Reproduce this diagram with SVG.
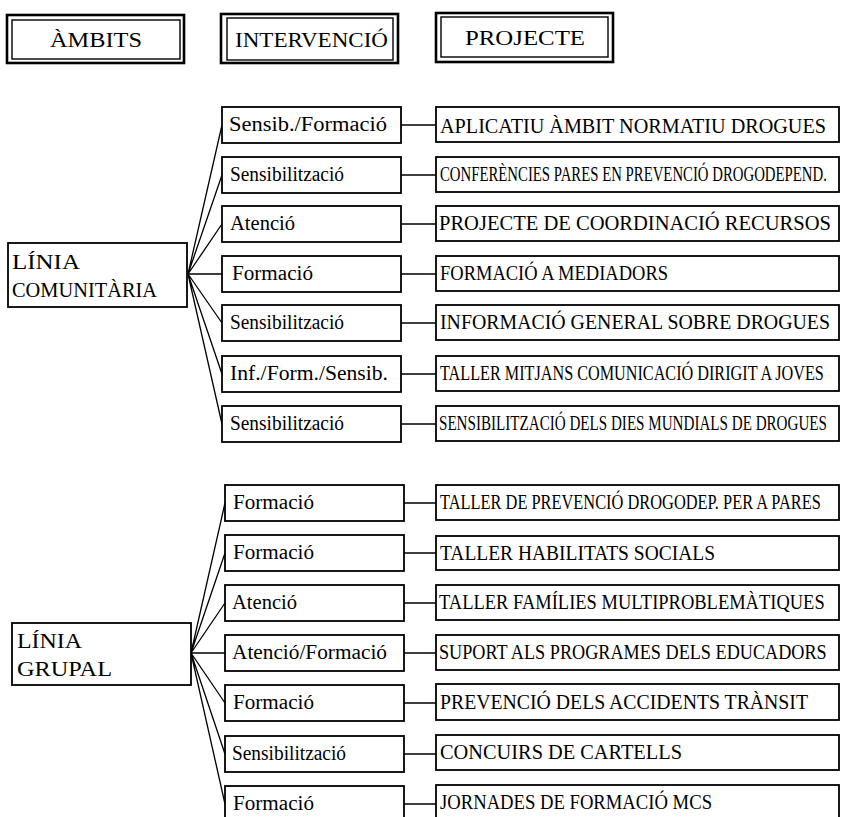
<svg xmlns="http://www.w3.org/2000/svg" width="841" height="817" viewBox="0 0 841 817">
<style>
text{font-family:"Liberation Serif","Times New Roman",serif;fill:#000}
.hdr{font-size:22px}
.mid{font-size:20px}
.prj{font-size:20px}
.amb{font-size:21px}
.box{fill:#fff;stroke:#000;stroke-width:1.8}
.out{fill:#fff;stroke:#000;stroke-width:2.6}
.inn{fill:none;stroke:#000;stroke-width:1.4}
.con{stroke:#000;stroke-width:1.3;fill:none}
</style>
<rect width="841" height="817" fill="#fff"/>
<g id="connectors">
<path class="con" d="M188 274L222 125M188 274L222 175M188 274L222 224M188 274L222 274M188 274L222 323M188 274L222 374M188 274L222 424"/>
<path class="con" d="M401 125H436M401 175H436M401 224H436M401 274H436M401 323H436M401 374H436M401 424H436"/>
<path class="con" d="M191 653L225 503M191 653L225 553M191 653L225 603M191 653L225 653M191 653L225 703M191 653L225 754M191 653L225 804"/>
<path class="con" d="M404 503H436M404 553H436M404 603H436M404 653H436M404 703H436M404 754H436M404 804H436"/>
</g>
<g id="h-ambits"><rect class="out" x="7" y="15" width="177" height="48"/><rect class="inn" x="12" y="20" width="168" height="39"/><text class="hdr" x="50" y="47" textLength="92" lengthAdjust="spacingAndGlyphs">ÀMBITS</text></g>
<g id="h-intervencio"><rect class="out" x="221" y="14" width="177" height="49"/><rect class="inn" x="227" y="18" width="166" height="42"/><text class="hdr" x="235" y="47" textLength="153" lengthAdjust="spacingAndGlyphs">INTERVENCIÓ</text></g>
<g id="h-projecte"><rect class="out" x="436" y="13" width="177" height="49"/><rect class="inn" x="441" y="17" width="167" height="40"/><text class="hdr" x="465" y="45" textLength="120" lengthAdjust="spacingAndGlyphs">PROJECTE</text></g>

<g id="linia-comunitaria"><rect class="box" x="8" y="243" width="179" height="64"/><text class="amb" x="12" y="269" textLength="68" lengthAdjust="spacingAndGlyphs">LÍNIA</text><text class="amb" x="12" y="297" textLength="145" lengthAdjust="spacingAndGlyphs">COMUNITÀRIA</text></g>
<g id="linia-grupal"><rect class="box" x="12" y="623" width="179" height="62"/><text class="amb" x="17" y="648" textLength="65" lengthAdjust="spacingAndGlyphs">LÍNIA</text><text class="amb" x="17" y="676" textLength="95" lengthAdjust="spacingAndGlyphs">GRUPAL</text></g>

<g id="c1"><rect class="box" x="222" y="107" width="179" height="36"/><text class="mid" x="229" y="131" textLength="158" lengthAdjust="spacingAndGlyphs">Sensib./Formació</text></g>
<g id="c2"><rect class="box" x="222" y="157" width="179" height="36"/><text class="mid" x="230" y="181" textLength="114" lengthAdjust="spacingAndGlyphs">Sensibilització</text></g>
<g id="c3"><rect class="box" x="222" y="206" width="179" height="36"/><text class="mid" x="230" y="230" textLength="65" lengthAdjust="spacingAndGlyphs">Atenció</text></g>
<g id="c4"><rect class="box" x="222" y="256" width="179" height="36"/><text class="mid" x="232" y="280" textLength="81" lengthAdjust="spacingAndGlyphs">Formació</text></g>
<g id="c5"><rect class="box" x="222" y="305" width="179" height="36"/><text class="mid" x="230" y="329" textLength="114" lengthAdjust="spacingAndGlyphs">Sensibilització</text></g>
<g id="c6"><rect class="box" x="222" y="356" width="179" height="36"/><text class="mid" x="230" y="380" textLength="158" lengthAdjust="spacingAndGlyphs">Inf./Form./Sensib.</text></g>
<g id="c7"><rect class="box" x="222" y="406" width="179" height="36"/><text class="mid" x="230" y="430" textLength="114" lengthAdjust="spacingAndGlyphs">Sensibilització</text></g>

<g id="p1"><rect class="box" x="436" y="107" width="403" height="35"/><text class="prj" x="440" y="133" textLength="386" lengthAdjust="spacingAndGlyphs">APLICATIU ÀMBIT NORMATIU DROGUES</text></g>
<g id="p2"><rect class="box" x="436" y="157" width="403" height="35"/><text class="prj" transform="translate(440 181) scale(0.74 1)">CONFERÈNCIES PARES EN PREVENCIÓ DROGODEPEND.</text></g>
<g id="p3"><rect class="box" x="436" y="206" width="403" height="35"/><text class="prj" x="439" y="230" textLength="392" lengthAdjust="spacingAndGlyphs">PROJECTE DE COORDINACIÓ RECURSOS</text></g>
<g id="p4"><rect class="box" x="436" y="256" width="403" height="35"/><text class="prj" x="440" y="280" textLength="228" lengthAdjust="spacingAndGlyphs">FORMACIÓ A MEDIADORS</text></g>
<g id="p5"><rect class="box" x="436" y="305" width="403" height="35"/><text class="prj" x="440" y="329" textLength="390" lengthAdjust="spacingAndGlyphs">INFORMACIÓ GENERAL SOBRE DROGUES</text></g>
<g id="p6"><rect class="box" x="436" y="356" width="403" height="35"/><text class="prj" transform="translate(440 380) scale(0.81 1)">TALLER MITJANS COMUNICACIÓ DIRIGIT A JOVES</text></g>
<g id="p7"><rect class="box" x="436" y="406" width="403" height="35"/><text class="prj" transform="translate(439 430) scale(0.755 1)">SENSIBILITZACIÓ DELS DIES MUNDIALS DE DROGUES</text></g>

<g id="g1"><rect class="box" x="225" y="485" width="179" height="36"/><text class="mid" x="233" y="509" textLength="81" lengthAdjust="spacingAndGlyphs">Formació</text></g>
<g id="g2"><rect class="box" x="225" y="535" width="179" height="36"/><text class="mid" x="233" y="559" textLength="81" lengthAdjust="spacingAndGlyphs">Formació</text></g>
<g id="g3"><rect class="box" x="225" y="585" width="179" height="36"/><text class="mid" x="232" y="609" textLength="65" lengthAdjust="spacingAndGlyphs">Atenció</text></g>
<g id="g4"><rect class="box" x="225" y="635" width="179" height="36"/><text class="mid" x="232" y="659" textLength="155" lengthAdjust="spacingAndGlyphs">Atenció/Formació</text></g>
<g id="g5"><rect class="box" x="225" y="685" width="179" height="36"/><text class="mid" x="233" y="709" textLength="81" lengthAdjust="spacingAndGlyphs">Formació</text></g>
<g id="g6"><rect class="box" x="225" y="736" width="179" height="36"/><text class="mid" x="232" y="760" textLength="114" lengthAdjust="spacingAndGlyphs">Sensibilització</text></g>
<g id="g7"><rect class="box" x="225" y="786" width="179" height="36"/><text class="mid" x="233" y="810" textLength="81" lengthAdjust="spacingAndGlyphs">Formació</text></g>

<g id="q1"><rect class="box" x="436" y="485" width="403" height="35"/><text class="prj" transform="translate(440 509) scale(0.82 1)">TALLER DE PREVENCIÓ DROGODEP. PER A PARES</text></g>
<g id="q2"><rect class="box" x="436" y="536" width="403" height="34"/><text class="prj" x="440" y="560" textLength="275" lengthAdjust="spacingAndGlyphs">TALLER HABILITATS SOCIALS</text></g>
<g id="q3"><rect class="box" x="436" y="585" width="403" height="35"/><text class="prj" transform="translate(439 609) scale(0.925 1)">TALLER FAMÍLIES MULTIPROBLEMÀTIQUES</text></g>
<g id="q4"><rect class="box" x="436" y="635" width="403" height="35"/><text class="prj" transform="translate(439 659) scale(0.91 1)">SUPORT ALS PROGRAMES DELS EDUCADORS</text></g>
<g id="q5"><rect class="box" x="436" y="684" width="403" height="36"/><text class="prj" x="440" y="709" textLength="368" lengthAdjust="spacingAndGlyphs">PREVENCIÓ DELS ACCIDENTS TRÀNSIT</text></g>
<g id="q6"><rect class="box" x="436" y="735" width="403" height="35"/><text class="prj" x="440" y="759" textLength="242" lengthAdjust="spacingAndGlyphs">CONCUIRS DE CARTELLS</text></g>
<g id="q7"><rect class="box" x="436" y="785" width="403" height="36"/><text class="prj" x="440" y="809" textLength="272" lengthAdjust="spacingAndGlyphs">JORNADES DE FORMACIÓ MCS</text></g>
</svg>
